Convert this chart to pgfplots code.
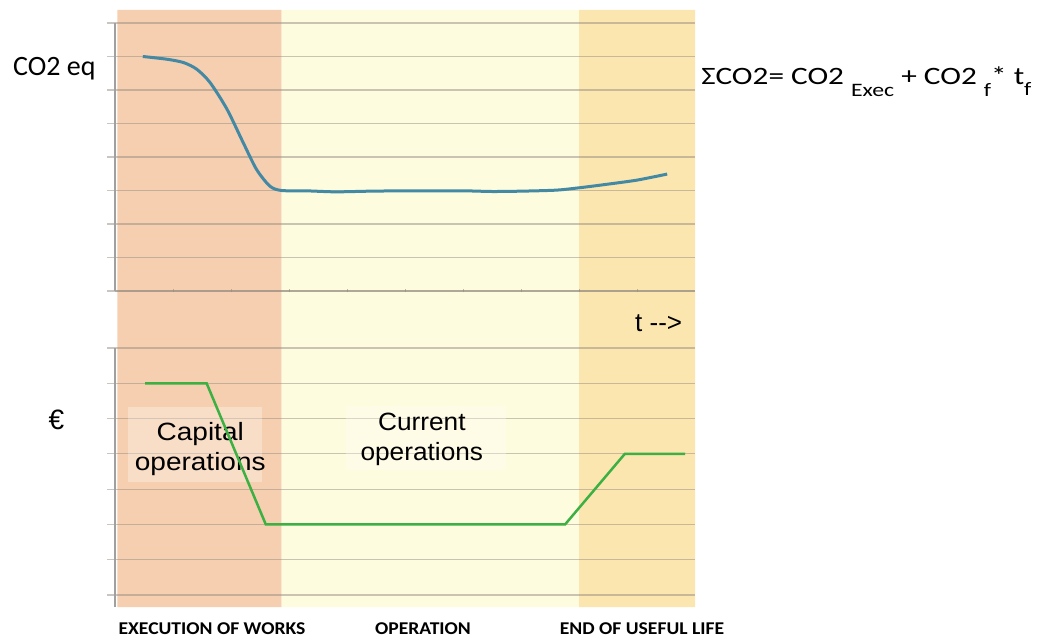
\documentclass[border=0pt]{standalone}
\usepackage{pgfplots}
\pgfplotsset{compat=1.18}
\usepackage{fontspec}
\setmainfont{Carlito}
\newfontfamily\arial{Liberation Sans}

\definecolor{bandexec}{HTML}{F5CFB0}
\definecolor{bandop}{HTML}{FEFCDE}
\definecolor{bandend}{HTML}{FCE6B0}
\definecolor{gridc}{RGB}{150,140,130}
\definecolor{axisc}{RGB}{160,160,160}
\definecolor{co2line}{HTML}{4389A4}
\definecolor{costline}{HTML}{3CB043}

\pgfplotsset{
  panel/.style={
    scale only axis,
    width=580pt,
    xmin=0, xmax=10,
    axis y line=left,
    axis line style={-, draw=axisc, line width=1.5pt},
    ymajorgrids,
    grid style={draw=gridc, draw opacity=0.5, line width=1.2pt},
    tick align=outside,
    ytick style={draw=gridc, draw opacity=0.5, line width=1.2pt},
    major tick length=8pt,
    yticklabels={}, xticklabels={},
    clip=false,
  },
}

\begin{document}
\begin{tikzpicture}
% canvas
\path (0pt,0pt) rectangle (1037pt,-637pt);

% life-cycle phases behind both panels
\begin{axis}[
  scale only axis, hide axis,
  at={(115pt,-607pt)}, anchor=south west,
  width=580pt, height=597pt,
  xmin=0, xmax=10, ymin=0, ymax=1,
]
\addplot[fill=bandexec, draw=none] coordinates {(0.04,0) (2.874,0) (2.874,1) (0.04,1) (0.04,0)};
\addplot[fill=bandop, draw=none] coordinates {(2.874,0) (8.0,0) (8.0,1) (2.874,1) (2.874,0)};
\addplot[fill=bandend, draw=none] coordinates {(8.0,0) (10,0) (10,1) (8.0,1) (8.0,0)};
\end{axis}

% emissions panel
\begin{axis}[
  panel,
  at={(115pt,-291pt)}, anchor=south west,
  height=268pt,
  ymin=0, ymax=8, ytick={0,...,8},
  axis x line=bottom,
  xtick={1,...,9},
  xtick style={draw=gridc, draw opacity=0.6, line width=1pt, /pgfplots/major tick length=3pt},
  x axis line style={-, draw=gridc, draw opacity=0.5, line width=1.2pt},
]
\addplot[co2line, line width=3pt, smooth, tension=0.45] coordinates {
  (0.48,7.00) (0.89,6.92) (1.18,6.82) (1.41,6.62) (1.64,6.22)
  (1.93,5.43) (2.21,4.43) (2.44,3.63) (2.67,3.13) (2.87,3.00)
  (3.3,2.99) (3.8,2.96) (4.4,2.98) (5.0,2.99) (6.0,2.99)
  (6.5,2.97) (7.0,2.98) (7.6,3.01) (8.0,3.08) (8.5,3.19)
  (9.0,3.31) (9.52,3.49)
};
\end{axis}

% cost panel
\begin{axis}[
  panel,
  at={(115pt,-607pt)}, anchor=south west,
  height=259pt,
  ymin=-0.34, ymax=7, ytick={0,...,7},
  axis x line=none,
]
% phase captions
\fill[white, opacity=0.3] (axis cs:0.22,5.33) rectangle (axis cs:2.53,3.2);
\fill[white, opacity=0.3] (axis cs:3.98,5.36) rectangle (axis cs:6.74,3.55);
\node[font=\arial\fontsize{25}{30}\selectfont, align=center, anchor=center, xscale=1.12]
  at (axis cs:1.47,4.13) {Capital\\operations};
\node[font=\arial\fontsize{25}{30}\selectfont, align=center, anchor=center, xscale=1.05]
  at (axis cs:5.29,4.40) {Current\\operations};
\addplot[costline, line width=2.5pt] coordinates {
  (0.52,6) (1.58,6) (2.60,2) (7.76,2) (8.79,4) (9.83,4)
};
\end{axis}

% labels
\node[anchor=base west, inner sep=0pt, font=\fontsize{28}{32}\selectfont] at (13pt,-76pt) {CO2 eq};
\node[anchor=base west, font=\arial\fontsize{28}{32}\selectfont] at (45pt,-429pt) {€};
\node[anchor=base west, font=\arial\fontsize{26}{30}\selectfont, inner sep=0pt] at (635pt,-332pt) {t -->};
\node[anchor=base west, inner sep=0pt, xscale=1.25, font=\fontsize{25}{30}\selectfont] at (701pt,-85pt)
  {ΣCO2= CO2 \raisebox{-12pt}{\fontsize{19}{20}\selectfont Exec} + CO2 \raisebox{-12pt}{\fontsize{19}{20}\selectfont f}* t\raisebox{-11pt}{\fontsize{19}{20}\selectfont f}};

\node[anchor=base, xscale=1.09, font=\bfseries\fontsize{18}{20}\selectfont] at (212pt,-634pt) {EXECUTION OF WORKS};
\node[anchor=base, xscale=1.09, font=\bfseries\fontsize{18}{20}\selectfont] at (423pt,-634pt) {OPERATION};
\node[anchor=base, xscale=1.09, font=\bfseries\fontsize{18}{20}\selectfont] at (642pt,-634pt) {END OF USEFUL LIFE};
\end{tikzpicture}
\end{document}
